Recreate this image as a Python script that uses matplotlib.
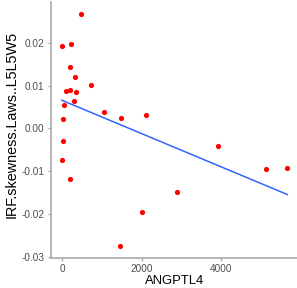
import numpy as np
import matplotlib
matplotlib.use("Agg")
import matplotlib.pyplot as plt

plt.rcParams['font.family'] = ['Liberation Sans', 'DejaVu Sans']

angptl4 = [0, 219, 478, 193, 335, 93, 201, 352, 730, 310, 50, 17, 1065, 1492, 2113,
           25, -8, 210, 2005, 1459, 3917, 5125, 5668, 2893]
irf = [0.0194, 0.0198, 0.0269, 0.0144, 0.0120, 0.0088, 0.0090, 0.0085, 0.0101, 0.0064,
       0.0054, 0.0023, 0.0039, 0.0025, 0.0032, -0.0030, -0.0075, -0.0119, -0.0196,
       -0.0275, -0.0040, -0.0095, -0.0093, -0.0149]

x_ticks = [0, 2000, 4000]
x_tick_labels = ["0", "2000", "4000"]
y_ticks = [-0.03, -0.02, -0.01, 0.00, 0.01, 0.02]
y_tick_labels = ["-0.03", "-0.02", "-0.01", "0.00", "0.01", "0.02"]

x = np.array(angptl4)
y = np.array(irf)

W, H = 297, 288
fig = plt.figure(figsize=(W / 100, H / 100), dpi=100)
left_px, right_px, bottom_px, top_px = 50.5, 298.6, 257.5, 2.0
ax = fig.add_axes([left_px / W, (H - bottom_px) / H, (right_px - left_px) / W, (bottom_px - top_px) / H])

ax.scatter(x, y, s=14, color='#FF0000', linewidths=0, zorder=3)

slope, intercept = np.polyfit(x, y, 1)
xs = np.array([x.min(), x.max()])
ax.plot(xs, slope * xs + intercept, color='#3366FF', lw=1.1, zorder=2)

xr = x.max() - x.min()
yr = y.max() - y.min()
ax.set_xlim(x.min() - 0.05 * xr, x.max() + 0.05 * xr)
ax.set_ylim(y.min() - 0.05 * yr, y.max() + 0.05 * yr)

ax.set_xticks(x_ticks)
ax.set_xticklabels(x_tick_labels)
ax.set_yticks(y_ticks)
ax.set_yticklabels(y_tick_labels)

for s in ['top', 'right']:
    ax.spines[s].set_visible(False)
for s in ['left', 'bottom']:
    ax.spines[s].set_color('#AAAAAA')
    ax.spines[s].set_linewidth(1.2)
ax.tick_params(axis='both', colors='#AAAAAA', labelcolor='#4D4D4D', labelsize=7.2,
               length=2.5, width=1.0, pad=2)

ax.set_xlabel('ANGPTL4', fontsize=9.4, color='black', labelpad=1)
ax.set_ylabel('IRF.skewness.Laws..L5L5W5', fontsize=10.4, color='black')
ax.yaxis.set_label_coords(-0.13, 0.522)

fig.savefig('out.png', dpi=100)
